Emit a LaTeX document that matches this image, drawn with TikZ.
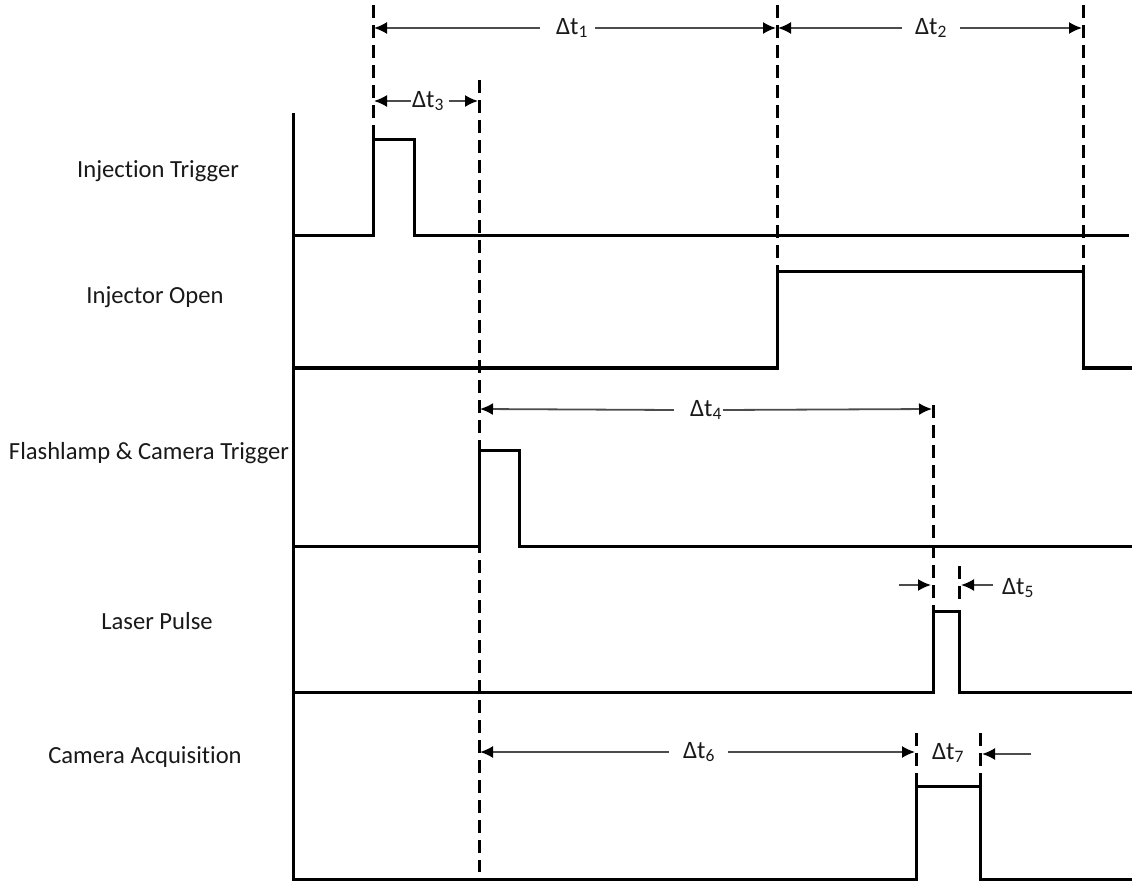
\documentclass[tikz,border=0pt]{standalone}
\usepackage{fontspec}
\setmainfont{Carlito}[Ligatures=NoCommon]
\usetikzlibrary{arrows.meta}
\begin{document}
\begin{tikzpicture}[x=1pt,y=-1pt]
\useasboundingbox (0,0) rectangle (1132,882);
\tikzset{
 sig/.style={line width=3pt, line join=miter},
 guide/.style={line width=3pt, dash pattern=on 13pt off 7pt},
 dim/.style={line width=1.8pt, draw=black!70, arrows={-{Latex[length=13pt,width=12pt,fill=black,color=black]}}},
 lab/.style={font=\fontsize{24.6}{29}\selectfont, text=black!90, inner sep=0pt},
 dt/.style={font=\fontsize{25}{29}\selectfont, text=black!90, inner sep=0pt},
}
% axis and signals
\draw[sig] (293,113) -- (293,881);
\draw[sig] (293,236) -- (373,236) -- (373,140) -- (414,140) -- (414,236) -- (1129,236);
\draw[sig] (293,368) -- (777,368) -- (777,272) -- (1083,272) -- (1083,368) -- (1132,368);
\draw[sig] (293,546) -- (479,546) -- (479,450) -- (519,450) -- (519,546) -- (1132,546);
\draw[sig] (293,692) -- (933,692) -- (933,611) -- (959,611) -- (959,692) -- (1132,692);
\draw[sig] (293,879) -- (916,879) -- (916,786) -- (980,786) -- (980,879) -- (1132,879);
% signal labels
\node[lab] (inj) at (158,171) {Injection Trigger};
\node[lab] (open) at (155,297) {Injector Open};
\node[lab] (flash) at (149,453) {Flashlamp \& Camera Trigger};
\node[lab] (laser) at (157,621) {Laser Pulse};
\node[lab] (cam) at (145,757) {Camera Acquisition};
% guide lines
\draw[guide] (373,5) -- (373,140);
\draw[guide] (479,80) -- (479,872);
\draw[guide] (777,5) -- (777,272);
\draw[guide] (1083,5) -- (1083,272);
\draw[guide] (933,405) -- (933,611);
\draw[guide] (959,566) -- (959,606);
\draw[guide] (916,733) -- (916,786);
\draw[guide] (980,733) -- (980,786);
% dimension end points
\coordinate (a1l) at (374,28);
\coordinate (a1r) at (776,28);
\coordinate (a2l) at (778,28);
\coordinate (a2r) at (1082,28);
\coordinate (a3l) at (374,101);
\coordinate (a3r) at (478,101);
\coordinate (a4l) at (480,409);
\coordinate (a4r) at (932,409);
\coordinate (a5a) at (899,585);
\coordinate (a5l) at (931,585);
\coordinate (a5b) at (993,585);
\coordinate (a5r) at (961,585);
\coordinate (a6l) at (480,752);
\coordinate (a6r) at (915,752);
\coordinate (a7a) at (1031,754);
\coordinate (a7r) at (982,754);
% dimension labels
\node[dt] (t1) at (572,28) {Δt\textsubscript{1}};
\node[dt] (t2) at (931,28) {Δt\textsubscript{2}};
\node[dt] (t3) at (428,101) {Δt\textsubscript{3}};
\node[dt] (t4) at (706,410) {Δt\textsubscript{4}};
\node[dt] (t5) at (1018,588) {Δt\textsubscript{5}};
\node[dt] (t6) at (699,752) {Δt\textsubscript{6}};
\node[dt] (t7) at (948,753) {Δt\textsubscript{7}};
% dimension arrows
\draw[dim] ([xshift=-16pt]t1.west) -- (a1l);
\draw[dim] ([xshift=7pt]t1.east) -- (a1r);
\draw[dim] ([xshift=-13pt]t2.west) -- (a2l);
\draw[dim] ([xshift=13pt]t2.east) -- (a2r);
\draw[dim] ([xshift=-1pt]t3.west) -- (a3l);
\draw[dim] ([xshift=5pt]t3.east) -- (a3r);
\draw[dim] ([xshift=-16pt]t4.west) -- (a4l);
\draw[dim] ([xshift=1pt]t4.east) -- (a4r);
\draw[dim] (a5a) -- (a5l);
\draw[dim] (a5b) -- (a5r);
\draw[dim] ([xshift=-14pt]t6.west) -- (a6l);
\draw[dim] ([xshift=13pt]t6.east) -- (a6r);
\draw[dim] (a7a) -- (a7r);
\end{tikzpicture}
\end{document}
